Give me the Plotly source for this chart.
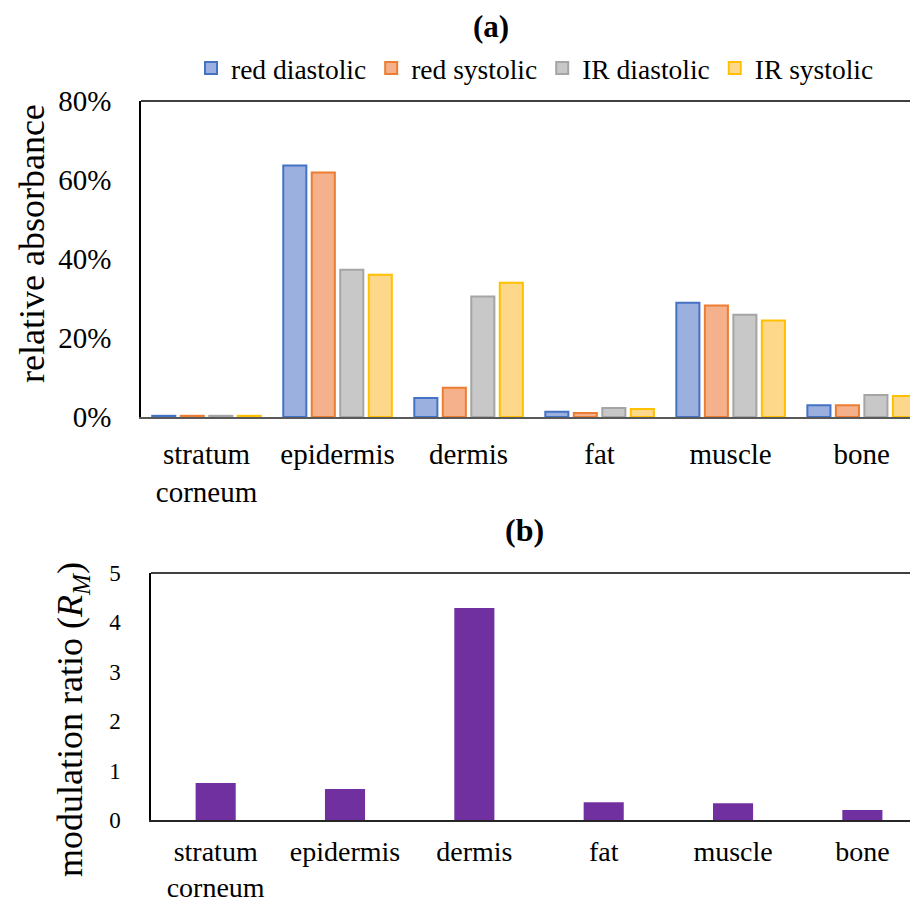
import plotly.graph_objects as go

categories = ["stratum<br>corneum", "epidermis", "dermis", "fat", "muscle", "bone"]
series_names = ["red diastolic", "red systolic", "IR diastolic", "IR systolic"]
red_diastolic = [0.003, 0.637, 0.048, 0.013, 0.289, 0.030]
red_systolic = [0.003, 0.619, 0.074, 0.010, 0.282, 0.030]
ir_diastolic = [0.003, 0.373, 0.305, 0.023, 0.259, 0.056]
ir_systolic = [0.003, 0.360, 0.340, 0.020, 0.244, 0.053]
modulation_ratio = [0.75, 0.63, 4.29, 0.36, 0.34, 0.20]

fills = ["#9bb0de", "#f5b08c", "#c8c8c8", "#fed88a"]
edges = ["#4472c4", "#ed7d31", "#a5a5a5", "#ffc000"]

OFF = 8  # page body margin
W, H = 918 - OFF, 906 - OFF
L = 141 - OFF
PW = W - L

def px_x(x):
    return (x - OFF - L) / PW

def px_y(y):
    return (H - (y - OFF)) / H

FONT = "Liberation Serif, Times New Roman, serif"

fig = go.Figure()
for name, vals, fc, ec in zip(series_names, [red_diastolic, red_systolic, ir_diastolic, ir_systolic], fills, edges):
    fig.add_trace(go.Bar(x=categories, y=vals, name=name, marker=dict(color=fc, line=dict(color=ec, width=2)),
                         xaxis="x", yaxis="y"))

fig.add_trace(go.Bar(x=categories, y=modulation_ratio, name="RM", showlegend=False,
                     marker=dict(color="#7030a0", line=dict(width=0)), width=0.31, offset=-0.155,
                     xaxis="x2", yaxis="y2"))

xr = [-0.5, 5.43]
fig.update_layout(
    width=W, height=H,
    margin=dict(l=L, r=0, t=0, b=0),
    paper_bgcolor="white", plot_bgcolor="white",
    font=dict(family=FONT, color="black"),
    barmode="group", bargap=0.13, bargroupgap=0.19,
    xaxis=dict(domain=[0, 1], anchor="y", range=xr, showgrid=False, showline=True, linecolor="#595959", linewidth=2,
               ticks="", tickfont=dict(size=29), ticklabelstandoff=10, automargin=False),
    yaxis=dict(domain=[px_y(417), px_y(101)], anchor="x", range=[0, 0.8], dtick=0.2, tickformat=".0%",
               showgrid=False, showline=True, linecolor="black", linewidth=1.5, ticks="",
               tickfont=dict(size=29), ticklabelstandoff=22, automargin=False, zeroline=False),
    xaxis2=dict(domain=[px_x(151), 1], anchor="y2", range=xr, showgrid=False, showline=True, linecolor="#262626",
                linewidth=2, ticks="", tickfont=dict(size=28), ticklabelstandoff=5, automargin=False),
    yaxis2=dict(domain=[px_y(820), px_y(573)], anchor="x2", range=[0, 5], dtick=1,
                showgrid=False, showline=True, linecolor="black", linewidth=1.5, ticks="",
                tickfont=dict(size=23), ticklabelstandoff=24, automargin=False, zeroline=False),
    legend=dict(orientation="h", x=px_x(535), xanchor="center", y=px_y(68), yanchor="middle",
                font=dict(size=27.5), itemwidth=30, bgcolor="rgba(0,0,0,0)"),
    shapes=[
        dict(type="line", xref="x domain", yref="y domain", x0=0, x1=1, y0=1, y1=1,
             line=dict(color="black", width=1.5)),
        dict(type="line", xref="x2 domain", yref="y2 domain", x0=0, x1=1, y0=1, y1=1,
             line=dict(color="black", width=1.5)),
    ],
    annotations=[
        dict(text="<b>(a)</b>", x=px_x(491), y=1, xref="paper", yref="paper", showarrow=False,
             font=dict(size=31), xanchor="center", yanchor="top", borderpad=0),
        dict(text="<b>(b)</b>", x=px_x(524), y=px_y(530), xref="paper", yref="paper", showarrow=False,
             font=dict(size=32), xanchor="center", yanchor="middle"),
        dict(text="relative absorbance", x=px_x(32), y=px_y(244), xref="paper", yref="paper", showarrow=False,
             textangle=-90, font=dict(size=36), xanchor="center", yanchor="middle"),
        dict(text="modulation ratio (<i>R</i><sub><i>M</i></sub>)", x=px_x(72), y=px_y(720), xref="paper",
             yref="paper", showarrow=False, textangle=-90, font=dict(size=36), xanchor="center", yanchor="middle"),
    ],
)

fig.write_html("out.html")
